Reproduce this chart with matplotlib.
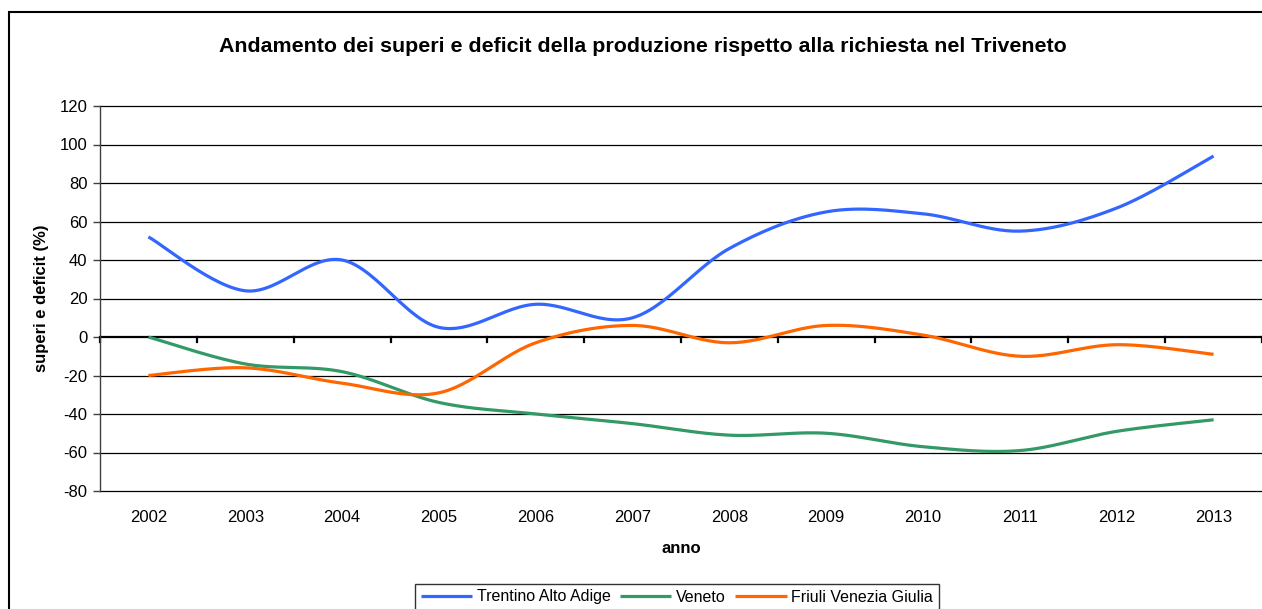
import numpy as np
import matplotlib
matplotlib.use("Agg")
import matplotlib.pyplot as plt
from matplotlib.patches import Rectangle

plt.rcParams['font.family'] = ['Liberation Sans', 'DejaVu Sans']
plt.rcParams['axes.unicode_minus'] = False

# Dati: surplus / deficit della produzione rispetto alla richiesta (%)
anni = ['2002', '2003', '2004', '2005', '2006', '2007',
        '2008', '2009', '2010', '2011', '2012', '2013']
trentino = [52, 24, 40, 5, 17, 10, 46, 65, 64, 55, 67, 94]
veneto = [0, -14, -18, -34, -40, -45, -51, -50, -57, -59, -49, -43]
friuli = [-20, -16, -24, -29, -3, 6, -3, 6, 1, -10, -4, -9]

serie = [
    ('Trentino Alto Adige', trentino, '#3366FF'),
    ('Veneto', veneto, '#339966'),
    ('Friuli Venezia Giulia', friuli, '#FF6600'),
]


def curva_smussata(x, y, passi=30):
    """Bezier cubica tipo Catmull-Rom passante per tutti i punti."""
    x = np.asarray(x, float)
    y = np.asarray(y, float)
    px = np.concatenate([[x[0]], x, [x[-1]]])
    py = np.concatenate([[y[0]], y, [y[-1]]])
    xs, ys = [], []
    t = np.linspace(0, 1, passi)
    for i in range(len(x) - 1):
        p0 = np.array([px[i + 1], py[i + 1]])
        p3 = np.array([px[i + 2], py[i + 2]])
        c1 = p0 + (np.array([px[i + 2], py[i + 2]]) - np.array([px[i], py[i]])) / 6
        c2 = p3 - (np.array([px[i + 3], py[i + 3]]) - np.array([px[i + 1], py[i + 1]])) / 6
        b = ((1 - t) ** 3)[:, None] * p0 + (3 * (1 - t) ** 2 * t)[:, None] * c1 \
            + (3 * (1 - t) * t ** 2)[:, None] * c2 + (t ** 3)[:, None] * p3
        xs.append(b[:, 0])
        ys.append(b[:, 1])
    return np.concatenate(xs), np.concatenate(ys)


W, H = 1262, 609
fig = plt.figure(figsize=(W / 100, H / 100), dpi=100)

# cornice esterna del grafico
fig.patches.append(Rectangle((9 / W, -0.05), 1.2, (H - 12) / H + 0.05,
                             transform=fig.transFigure, fill=False,
                             edgecolor='black', linewidth=1.5))

ax = fig.add_axes([100 / W, (H - 491) / H, (W - 100) / W, 385 / H])
ax.set_xlim(-0.5, len(anni) - 0.5)
ax.set_ylim(-80, 120)

# griglia orizzontale
for v in range(-80, 121, 20):
    if v != 0:
        ax.axhline(v, color='black', linewidth=0.9, zorder=1, clip_on=False)

xi = np.arange(len(anni))
for nome, valori, colore in serie:
    sx, sy = curva_smussata(xi, valori)
    ax.plot(sx, sy, color=colore, linewidth=2.3, label=nome, zorder=3,
            solid_capstyle='butt')

# asse delle categorie che incrocia in y = 0
ax.axhline(0, color='black', linewidth=1.6, zorder=2)
for b in np.arange(-0.5, len(anni), 1.0):
    ax.plot([b, b], [0, -2.6], color='black', linewidth=1.6, zorder=2,
            clip_on=False)

for s in ['top', 'right', 'bottom']:
    ax.spines[s].set_visible(False)
ax.spines['left'].set_color('#404040')
ax.spines['left'].set_linewidth(1.0)

ax.set_yticks(range(-80, 121, 20))
ax.tick_params(axis='y', length=5, width=1, color='#404040',
               labelsize=12, pad=4)
ax.set_xticks(xi)
ax.set_xticklabels(anni)
ax.tick_params(axis='x', length=0, labelsize=12, pad=14)

ax.set_xlabel('anno', fontsize=12, fontweight='bold', labelpad=11)
ax.set_ylabel('superi e deficit (%)', fontsize=12, fontweight='bold',
              labelpad=8)

fig.text(643 / W, 1 - 47 / H,
         'Andamento dei superi e deficit della produzione rispetto alla richiesta nel Triveneto',
         ha='center', va='center', fontsize=15.4, fontweight='bold')

leg = fig.legend(loc='center', bbox_to_anchor=(677 / W, 1 - 597 / H), ncol=3,
                 frameon=True, fancybox=False, edgecolor='black',
                 fontsize=11.5, handlelength=3.2, handletextpad=0.3,
                 columnspacing=0.6, borderpad=0.35, borderaxespad=0)
leg.get_frame().set_linewidth(1.0)

fig.savefig('out.png', dpi=100)
